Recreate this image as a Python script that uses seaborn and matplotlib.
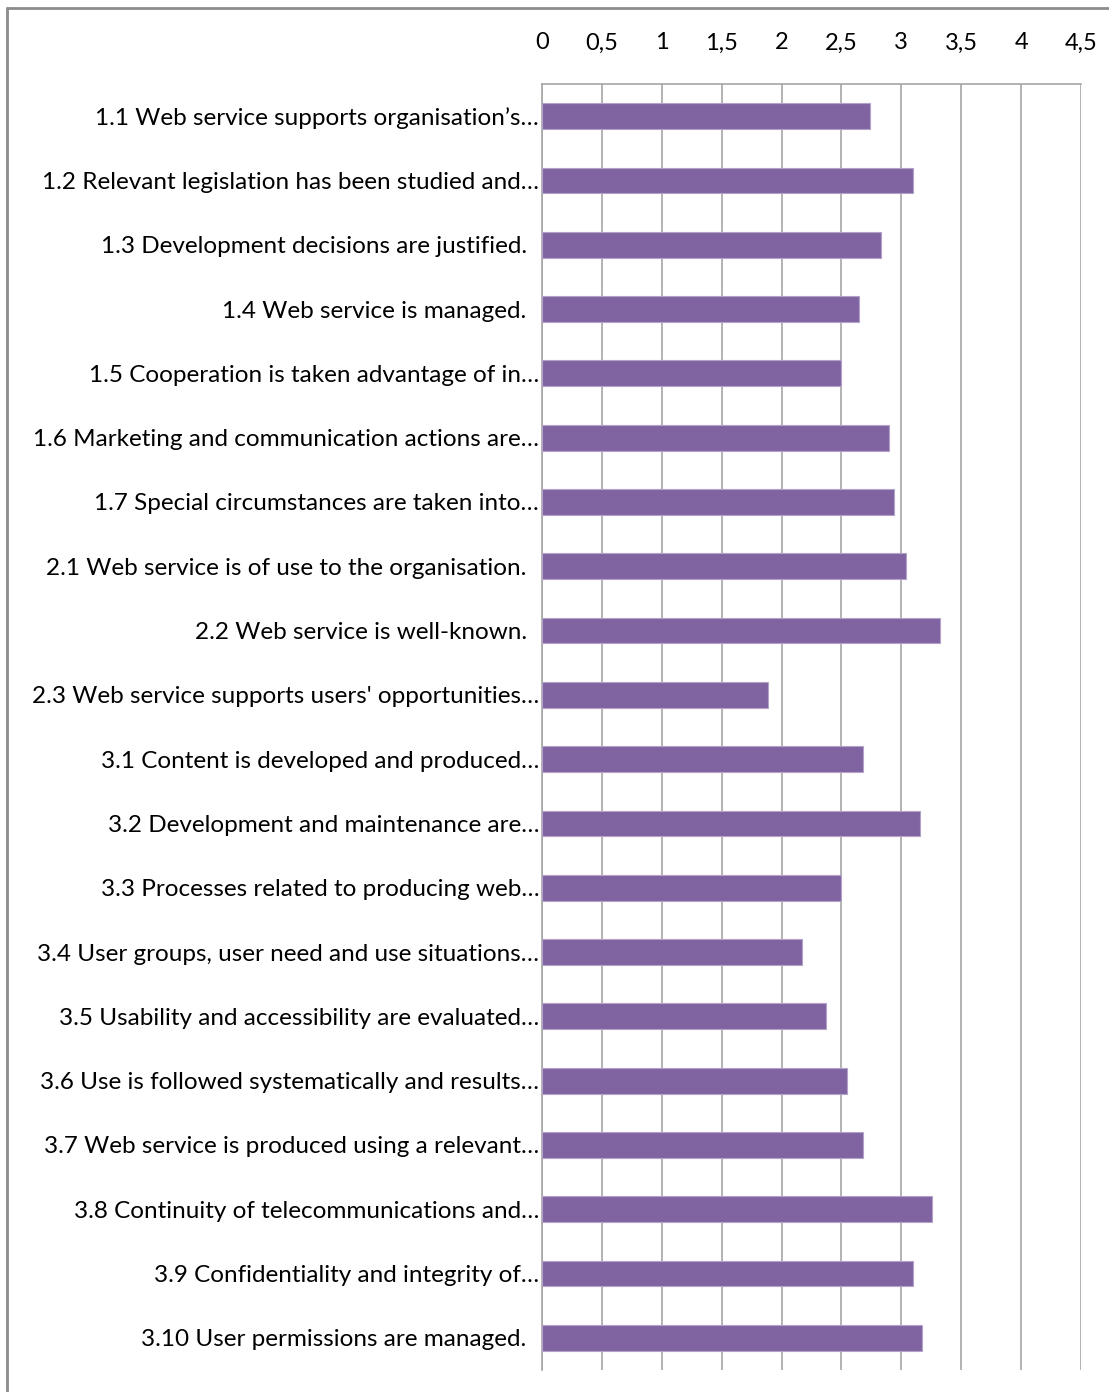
import matplotlib
matplotlib.use("Agg")
import matplotlib.pyplot as plt
from matplotlib.lines import Line2D
import seaborn as sns
import pandas as pd
import numpy as np

# Criteria (y categories) and their average scores
criteria = [
    "1.1 Web service supports organisation\u2019s\u2026",
    "1.2 Relevant legislation has been studied and\u2026",
    "1.3 Development decisions are justified.  ",
    "1.4 Web service is managed.  ",
    "1.5 Cooperation is taken advantage of in\u2026",
    "1.6 Marketing and communication actions are\u2026",
    "1.7 Special circumstances are taken into\u2026",
    "2.1 Web service is of use to the organisation.  ",
    "2.2 Web service is well-known.  ",
    "2.3 Web service supports users' opportunities\u2026",
    "3.1 Content is developed and produced\u2026",
    "3.2 Development and maintenance are\u2026",
    "3.3 Processes related to producing web\u2026",
    "3.4 User groups, user need and use situations\u2026",
    "3.5 Usability and accessibility are evaluated\u2026",
    "3.6 Use is followed systematically and results\u2026",
    "3.7 Web service is produced using a relevant\u2026",
    "3.8 Continuity of telecommunications and\u2026",
    "3.9 Confidentiality and integrity of\u2026",
    "3.10 User permissions are managed.  ",
]
scores = [2.74, 3.10, 2.83, 2.65, 2.50, 2.90, 2.94, 3.04, 3.32, 1.89,
          2.68, 3.16, 2.50, 2.17, 2.37, 2.55, 2.68, 3.26, 3.10, 3.17]
x_ticks = [0, 0.5, 1, 1.5, 2, 2.5, 3, 3.5, 4, 4.5]
x_tick_labels = ["0", "0,5", "1", "1,5", "2", "2,5", "3", "3,5", "4", "4,5"]

df = pd.DataFrame({"criterion": criteria, "score": scores})

sns.set_theme(style="white")
plt.rcParams["font.family"] = ["Lato", "DejaVu Sans"]

W, H = 1109, 1392
fig = plt.figure(figsize=(W / 100, H / 100), dpi=100)
ax = fig.add_axes([542 / W, 1 - 1370 / H, (1081 - 542) / W, (1370 - 84) / H])

sns.barplot(data=df, x="score", y="criterion", orient="h", color="#8064A2",
            width=0.4, saturation=1, edgecolor="#b3a2c7", linewidth=0.8,
            ax=ax, zorder=3)

ax.set_xlim(0, 4.5)
ax.set_ylim(len(criteria) - 0.5, -0.5)
ax.set_xticks(x_ticks)
ax.set_xticklabels(x_tick_labels)
ax.xaxis.tick_top()
ax.tick_params(axis="x", length=0, pad=22, labelsize=17, colors="#000000")
ax.tick_params(axis="y", length=0, pad=2, labelsize=17.5, colors="#000000")
ax.set_xlabel("")
ax.set_ylabel("")

grid_color = "#a6a6a6"
ax.grid(axis="x", color=grid_color, linewidth=1.2, zorder=0)
ax.set_axisbelow(True)
for side in ("bottom", "right"):
    ax.spines[side].set_visible(False)
ax.spines["top"].set_color(grid_color)
ax.spines["top"].set_linewidth(1.2)
ax.spines["left"].set_color(grid_color)
ax.spines["left"].set_linewidth(1.2)

# Outer chart frame (top and left edges)
fig.add_artist(Line2D([7 / W, 1.0], [1 - 8 / H, 1 - 8 / H], color="#8c8c8c",
                      linewidth=2, transform=fig.transFigure))
fig.add_artist(Line2D([7 / W, 7 / W], [0.0, 1 - 8 / H], color="#8c8c8c",
                      linewidth=2, transform=fig.transFigure))

fig.savefig("out.png", dpi=100, facecolor="white")
